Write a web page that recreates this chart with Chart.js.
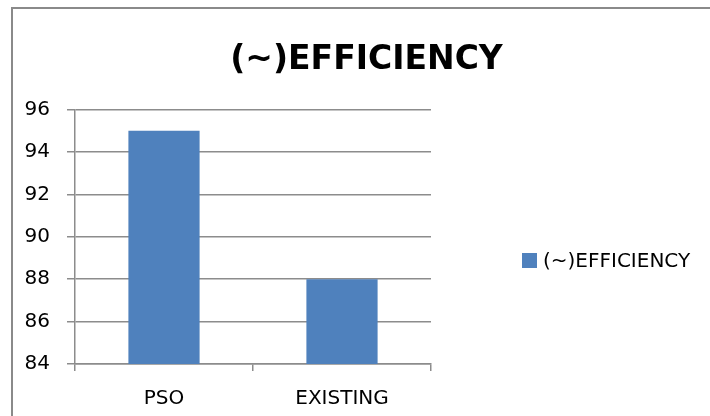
<!DOCTYPE html>
<html>
<head>
<meta charset="utf-8">
<script src="https://cdn.jsdelivr.net/npm/chart.js@4.4.1/dist/chart.umd.min.js"></script>
<style>
  html, body { margin: 0; padding: 0; background: #fff; }
  #frame { position: absolute; left: 11px; top: 7px; width: 720px; height: 430px;
           border-left: 2px solid #8a8a8a; border-top: 2px solid #8a8a8a; }
  #wrap { position: absolute; left: 0; top: 0; width: 710px; height: 416px; }
  #legend { position: absolute; left: 522px; top: 249px; font: 20px 'DejaVu Sans'; line-height: 22px;
            color: #000; white-space: nowrap; }
  #legend .box { display: inline-block; width: 15px; height: 15px; margin-right: 6px; vertical-align: -1px; }
</style>
</head>
<body>
<div id="frame"></div>
<div id="wrap"><canvas id="chart" width="710" height="416"></canvas></div>
<div id="legend"></div>
<script>
const categories = ['PSO', 'EXISTING'];
const efficiency = [95, 88];
const seriesName = '(~)EFFICIENCY';
const yMin = 84;
const yMax = 96;
const yStep = 2;

const gridGray = '#8c8c8c';
const font = 'DejaVu Sans';

// Draw the bar chart
function createChart(chartId) {
  const ctx = document.getElementById(chartId).getContext('2d');
  const chartConfig = {
    type: 'bar',
    data: {
      labels: categories,
      datasets: [{
        label: seriesName,
        data: efficiency,
        backgroundColor: '#4f81bd',
        borderWidth: 0,
        barPercentage: 0.4,
        categoryPercentage: 1.0
      }]
    },
    options: {
      responsive: false,
      devicePixelRatio: 1,
      animation: false,
      layout: { padding: { left: 23, right: 0, top: 0, bottom: 0 } },
      plugins: {
        title: {
          display: true,
          text: seriesName,
          color: '#000',
          font: { family: font, size: 33, weight: 'bold' },
          padding: { top: 41, bottom: 29 }
        },
        legend: { display: false },
        tooltip: { enabled: false }
      },
      scales: {
        x: {
          grid: { drawOnChartArea: false, offset: true, tickLength: 7, color: gridGray, lineWidth: 1.5 },
          border: { color: gridGray, width: 1.5 },
          ticks: { color: '#000', font: { family: font, size: 20 }, padding: 16 },
          afterFit: (scale) => { scale.height = 52; }
        },
        y: {
          min: yMin,
          max: yMax,
          grid: { color: gridGray, lineWidth: 1.5, tickLength: 8 },
          border: { color: gridGray, width: 1.5 },
          ticks: { stepSize: yStep, color: '#000', font: { family: font, size: 20 }, padding: 17 },
          afterFit: (scale) => { scale.width = 52; }
        },
        // empty axis on the right, leaves room for the legend
        gap: {
          position: 'right',
          display: true,
          grid: { display: false },
          border: { display: false },
          ticks: { display: false },
          afterFit: (scale) => { scale.width = 279; }
        }
      }
    }
  };
  return new Chart(ctx, chartConfig);
}

// html legend built from the chart's datasets
function buildLegend(chart, legendId) {
  const el = document.getElementById(legendId);
  chart.data.datasets.forEach((dataset) => {
    const row = document.createElement('div');
    const box = document.createElement('span');
    box.className = 'box';
    box.style.background = dataset.backgroundColor;
    row.appendChild(box);
    row.appendChild(document.createTextNode(dataset.label));
    el.appendChild(row);
  });
}

const chart = createChart('chart');
buildLegend(chart, 'legend');
</script>
</body>
</html>
